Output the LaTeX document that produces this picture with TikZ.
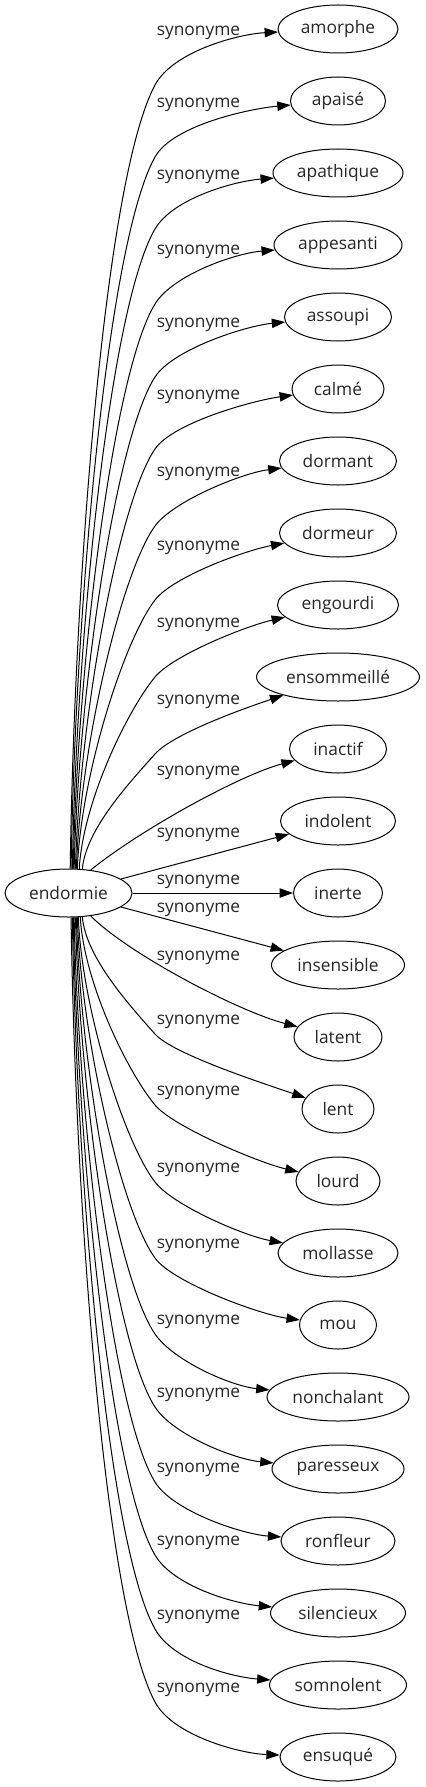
\documentclass[tikz,border=0pt]{standalone}
\usepackage{fontspec}
\setmainfont{Open Sans}
\usetikzlibrary{arrows.meta,shapes.geometric}
\begin{document}
\begin{tikzpicture}[x=0.75pt,y=-0.75pt,
  every node/.style={font=\fontsize{13}{15}\selectfont, text=black!85},
  word/.style={ellipse,draw=black,line width=0.75pt,minimum height=36pt,inner sep=0pt},
  lab/.style={inner sep=0pt},
  edge/.style={draw=black,line width=0.75pt,-{Triangle[length=10pt,width=7pt]}}]
\useasboundingbox (0,0) rectangle (425,1787);
% centre node
\node[word,minimum width=95.25pt] (endormie) at (68.5,893) {endormie};
% target nodes
\foreach \i/\n/\txt/\w in {0/amorphe/amorphe/120,1/apaise/apaisé/95,2/apathique/apathique/130,
  3/appesanti/appesanti/128,4/assoupi/assoupi/107,5/calme/calmé/92,6/dormant/dormant/117,
  7/dormeur/dormeur/117,8/engourdi/engourdi/121,9/ensommeille/ensommeillé/163,
  10/inactif/inactif/97,11/indolent/indolent/115,12/inerte/inerte/89,13/insensible/insensible/133,
  14/latent/latent/88,15/lent/lent/72,16/lourd/lourd/84,17/mollasse/mollasse/120,18/mou/mou/77,
  19/nonchalant/nonchalant/142,20/paresseux/paresseux/132,21/ronfleur/ronfleur/114,
  22/silencieux/silencieux/135,23/somnolent/somnolent/137,24/ensuque/ensuqué/116}{
  \pgfmathsetmacro\qN{29+72*\i}
  \node[word,minimum width={\w*0.75pt}] (\n) at (338,\qN) {\txt};
}
% edge labels
\foreach \ly [count=\k from 0] in {33,105,177,252,325,397,474,548,625,702,773,835,882,910,958,
  1022,1093,1170,1246,1322,1395,1470,1543,1617,1690}{
  \node[lab] (s\k) at (198.5,\ly) {synonyme};
}
% upper curved edges
\foreach \i/\n/\ly/\sx/\e/\w in {0/amorphe/33/70/3/120,1/apaise/105/71/4/95,2/apathique/177/72/5/130,
  3/appesanti/252/73/5/128,4/assoupi/325/74/5/107,5/calme/397/75/6/92,6/dormant/474/76/7/117,
  7/dormeur/548/77/10/117,8/engourdi/625/79/12/121,9/ensommeille/702/82/18/163}{
  \pgfmathsetmacro\qN{29+72*\i}
  \pgfmathsetmacro\qBy{\ly+52}
  \pgfmathsetmacro\qD{869-\qBy}
  \pgfmathsetmacro\qS{1+\qD/900}
  \pgfmathsetmacro\qM{20+\qD/25}
  \pgfmathsetmacro\qdx{\sx-68.5}
  \pgfmathsetmacro\qang{atan(24*sqrt(1-(\qdx/63.5)^2)/\qdx)}
  \pgfmathsetmacro\qax{\sx+4}
  \pgfmathsetmacro\qay{869-0.35*\qD}
  \pgfmathsetmacro\qbx{155-\qM}
  \pgfmathsetmacro\qby{\qBy+\qM*\qS}
  \pgfmathsetmacro\qcy{\qBy-18*\qS}
  \pgfmathsetmacro\qhx{(\w/2)*sqrt(1-(\e/24)^2)}
  \pgfmathsetmacro\qtx{338-\qhx-40}
  \pgfmathsetmacro\qty{\qN+\e+40*\e/\qhx}
  \draw[edge] (endormie.\qang) .. controls (\qax,\qay) and (\qbx,\qby) .. (155,\qBy)
     .. controls (173,\qcy) and (\qtx,\qty) .. (\n);
}
% lower curved edges
\foreach \i/\n/\ly/\sx/\e/\w in {15/lent/1022/82/-11/72,16/lourd/1093/80/-9/84,17/mollasse/1170/78/-10/120,
  18/mou/1246/77/-5/77,19/nonchalant/1322/76/-7/142,20/paresseux/1395/75/-6/132,
  21/ronfleur/1470/74/-4/114,22/silencieux/1543/73/-6/135,23/somnolent/1617/72/-5/137,
  24/ensuque/1690/71/-2/116}{
  \pgfmathsetmacro\qN{29+72*\i}
  \pgfmathsetmacro\qBy{\ly+12}
  \pgfmathsetmacro\qD{\qBy-917}
  \pgfmathsetmacro\qS{1+\qD/900}
  \pgfmathsetmacro\qM{20+\qD/25}
  \pgfmathsetmacro\qdx{\sx-68.5}
  \pgfmathsetmacro\qang{-atan(24*sqrt(1-(\qdx/63.5)^2)/\qdx)}
  \pgfmathsetmacro\qax{\sx+4}
  \pgfmathsetmacro\qay{917+0.35*\qD}
  \pgfmathsetmacro\qbx{155-\qM}
  \pgfmathsetmacro\qby{\qBy-\qM*\qS}
  \pgfmathsetmacro\qcy{\qBy+18*\qS}
  \pgfmathsetmacro\qhx{(\w/2)*sqrt(1-(\e/24)^2)}
  \pgfmathsetmacro\qtx{338-\qhx-40}
  \pgfmathsetmacro\qty{\qN+\e+40*\e/\qhx}
  \draw[edge] (endormie.\qang) .. controls (\qax,\qay) and (\qbx,\qby) .. (155,\qBy)
     .. controls (173,\qcy) and (\qtx,\qty) .. (\n);
}
% near-middle edges
\draw[edge] (endormie.46.4) .. controls (140,830) and (240,775) .. (inactif);
\draw[edge] (endormie) -- (indolent);
\draw[edge] (endormie) -- (inerte);
\draw[edge] (endormie) -- (insensible);
\draw[edge] (endormie.-46.4) .. controls (130,955) and (240,1012) .. (latent);
\end{tikzpicture}
\end{document}
